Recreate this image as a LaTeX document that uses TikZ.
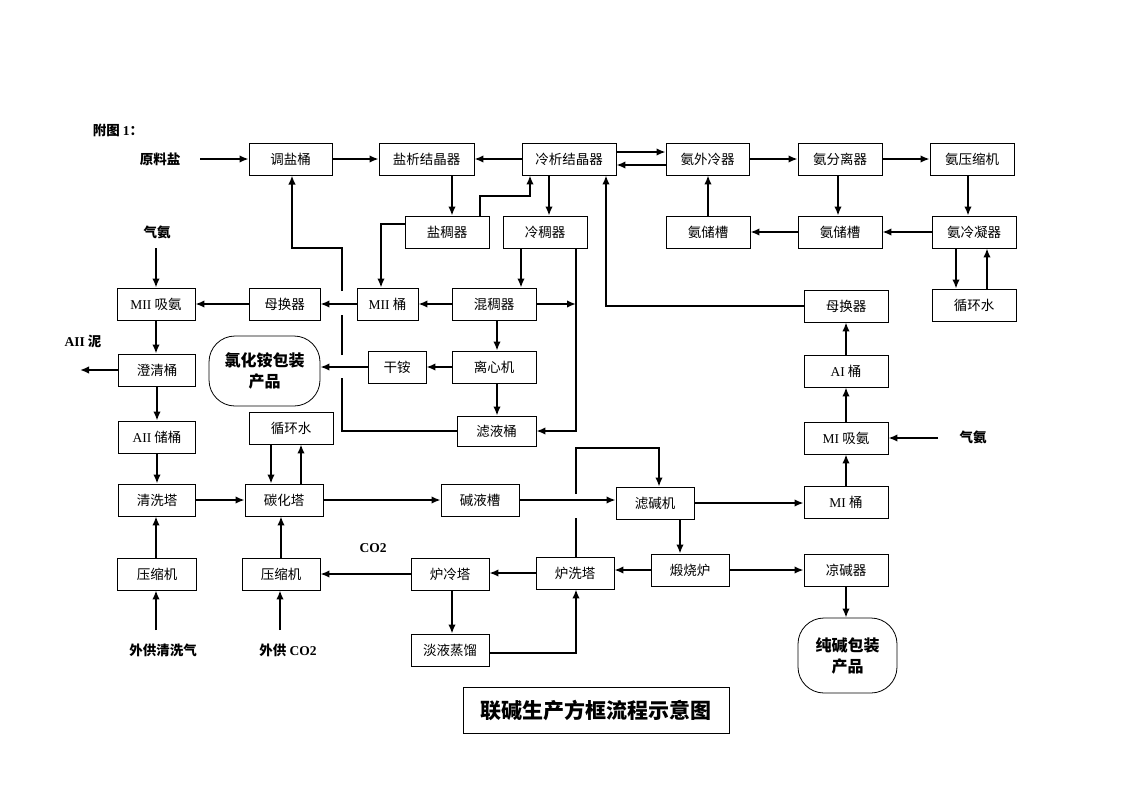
\documentclass[tikz,border=0pt]{standalone}
\usepackage{fontspec}
\setmainfont{Liberation Serif}
\newfontfamily\cjk{Noto Sans CJK SC}
\usetikzlibrary{arrows.meta}

\begin{document}
\begin{tikzpicture}[x=1pt,y=-1pt,>={Latex[length=9pt,width=7.5pt]}]
				\tikzstyle{box}=[draw,line width=0.8pt,minimum width=84pt,minimum height=32pt,inner sep=0pt,font=\cjk\fontsize{13.5}{16}\selectfont]
				\tikzstyle{prod}=[box,rounded corners=26pt,font=\cjk\bfseries\fontsize{16}{21}\selectfont,align=center]
				\tikzstyle{lbl}=[inner sep=0pt,font=\cjk\bfseries\fontsize{13.5}{16}\selectfont]
				\tikzstyle{every path}=[line width=1.8pt]
				\useasboundingbox (0,0) rectangle (1122,793);
				
				% labels
				\node[lbl] (fig) at (118,130) {附图 \textrm{1}：};
				\node[lbl] (yls) at (160,159) {原料盐};
				\node[lbl] (qa1) at (157,232) {气氨};
				\node[lbl] (a2n) at (83,341) {\textrm{AII} 泥};
				\node[lbl] (qa2) at (973,437) {气氨};
				\node[lbl] (co2) at (373,548) {\textrm{CO2}};
				\node[lbl] (wgq) at (163,650) {外供清洗气};
				\node[lbl] (wgc) at (288,650) {外供 \textrm{CO2}};
				
				% row 1
				\node[box,minimum width=83pt] (tyt) at (290.5,159) {调盐桶};
				\node[box,minimum width=95pt] (yxj) at (426.5,159) {盐析结晶器};
				\node[box,minimum width=94pt] (lxj) at (569,159) {冷析结晶器};
				\node[box,minimum width=83pt] (awl) at (707.5,159) {氨外冷器};
				\node[box] (afl) at (840,159) {氨分离器};
				\node[box] (ays) at (972,159) {氨压缩机};
				% row 2
				\node[box] (ycq) at (447,232) {盐稠器};
				\node[box] (lcq) at (545,232) {冷稠器};
				\node[box] (acc1) at (708,232) {氨储槽};
				\node[box] (acc2) at (840,232) {氨储槽};
				\node[box] (alq) at (974,232) {氨冷凝器};
				% row 3
				\node[box,minimum width=78pt] (m2x) at (156,304) {\textrm{MII} 吸氨};
				\node[box,minimum width=71pt] (mhq1) at (284.5,304) {母换器};
				\node[box,minimum width=61pt] (m2t) at (387.5,304) {\textrm{MII} 桶};
				\node[box] (hcq) at (494,304) {混稠器};
				\node[box] (mhq2) at (846,306) {母换器};
				\node[box] (xhs2) at (974,305) {循环水};
				% row 4
				\node[box,minimum width=77pt] (cqt) at (157,370) {澄清桶};
				\node[prod,minimum width=111pt,minimum height=70pt] (lha) at (264.5,371) {氯化铵包装\\产品};
				\node[box,minimum width=58pt] (ga) at (397,367) {干铵};
				\node[box] (lxj2) at (494,367) {离心机};
				\node[box] (a1t) at (846,371) {\textrm{AI} 桶};
				% row 5
				\node[box,minimum width=77pt] (a2c) at (157,437) {\textrm{AII} 储桶};
				\node[box] (xhs1) at (291,428) {循环水};
				\node[box,minimum width=79pt,minimum height=30pt] (lyt) at (496.5,431) {滤液桶};
				\node[box] (m1x) at (846,438) {\textrm{MI} 吸氨};
				% row 6
				\node[box,minimum width=77pt] (qxt) at (157,500) {清洗塔};
				\node[box,minimum width=78pt] (tht) at (284,500) {碳化塔};
				\node[box,minimum width=78pt] (jyc) at (480,500) {碱液槽};
				\node[box,minimum width=78pt] (ljj) at (655,503) {滤碱机};
				\node[box] (m1t) at (846,502) {\textrm{MI} 桶};
				% row 7
				\node[box,minimum width=79pt] (ysj1) at (157,574) {压缩机};
				\node[box,minimum width=78pt] (ysj2) at (281,574) {压缩机};
				\node[box,minimum width=78pt] (llt) at (450,574) {炉冷塔};
				\node[box,minimum width=78pt] (lxt) at (575,573) {炉洗塔};
				\node[box,minimum width=78pt] (dsl) at (690,570) {煅烧炉};
				\node[box] (ljq) at (846,570) {凉碱器};
				% row 8
				\node[box,minimum width=78pt] (dyz) at (450,650) {淡液蒸馏};
				\node[prod,minimum width=99pt,minimum height=75pt] (cj) at (847.5,655.5) {纯碱包装\\产品};
				\node[box,minimum width=266pt,minimum height=46pt,font=\cjk\bfseries\fontsize{21}{24}\selectfont] (title) at (596,710) {联碱生产方框流程示意图};
				
				% free ends
				\coordinate (in1) at (200,159);
				\coordinate (in2) at (156,248);
				\coordinate (in3) at (938,438);
				\coordinate (in4) at (156,630);
				\coordinate (in5) at (280,630);
				\coordinate (out1) at (80,370);
				
				% top part
				\draw[->] (in1) -- (tyt);
				\draw[->] (tyt) -- (yxj);
				\draw[->] (lxj) -- (yxj);
				\draw[->] ([yshift=7pt]lxj.east) -- ([yshift=7pt]awl.west);
				\draw[->] ([yshift=-6pt]awl.west) -- ([yshift=-6pt]lxj.east);
				\draw[->] (awl) -- (afl);
				\draw[->] (afl) -- (ays);
				\draw[->] ([xshift=-4pt]ays.south) -- ([xshift=-4pt]ays.south |- alq.north);
				\draw[->] (alq) -- (acc2);
				\draw[->] (acc2) -- (acc1);
				\draw[->] ([xshift=-2pt]afl.south) -- ([xshift=-2pt]afl.south |- acc2.north);
				\draw[->] (acc1.north) -- (acc1.north |- awl.south);
				\draw[->] ([xshift=-18pt]alq.south) -- ([xshift=-18pt]alq.south |- xhs2.north);
				\draw[->] ([xshift=13pt]alq.south |- xhs2.north) -- ([xshift=13pt]alq.south);
				\draw[->] ([xshift=25.5pt]yxj.south) -- ([xshift=25.5pt]yxj.south |- ycq.north);
				\draw[->] ([xshift=33pt]ycq.north) -- ++(0,-20) -| ([xshift=-39pt]lxj.south);
				\draw[->] ([xshift=-20pt]lxj.south) -- ([xshift=-20pt]lxj.south |- lcq.north);
				\draw[->] ([yshift=8pt]ycq.west) -| ([xshift=-6.5pt]m2t.north);
				\draw[->] ([xshift=-24pt]lcq.south) -- ([xshift=-24pt]lcq.south |- hcq.north);
				\coordinate (r1) at ([xshift=31pt]lcq.south);
				\draw[->] (r1) |- (lyt.east);
				\draw[->] (hcq.east) -- (r1 |- hcq.east);
				\draw[->] (hcq) -- (m2t);
				\draw[->] (m2t) -- (mhq1);
				\draw[->] (mhq1) -- (m2x);
				\draw[->] (mhq2.west) -| ([xshift=37pt]lxj.south);
				
				% return line with gaps
				\draw (lyt.west) -| (342,378);
				\draw (342,355) -- (342,315);
				\draw[->] (342,291) |- (292,248) -- (292,175.5);
				
				% middle part
				\draw[->] ([xshift=3pt]hcq.south) -- ([xshift=3pt]hcq.south |- lxj2.north);
				\draw[->] (lxj2) -- (ga);
				\draw[->] (ga.west) -- (ga.west -| lha.east);
				\draw[->] ([xshift=3pt]lxj2.south) -- ([xshift=3pt]lxj2.south |- lyt.north);
				\draw[->] (in2) -- (m2x);
				\draw[->] (m2x.south) -- (m2x.south |- cqt.north);
				\draw[->] (cqt) -- (out1);
				\draw[->] (cqt) -- (a2c);
				\draw[->] (a2c) -- (qxt);
				\draw[->] (qxt) -- (tht);
				\draw[->] ([xshift=-20pt]xhs1.south) -- ([xshift=-20pt]xhs1.south |- tht.north);
				\draw[->] ([xshift=10pt]xhs1.south |- tht.north) -- ([xshift=10pt]xhs1.south);
				\draw[->] (tht) -- (jyc);
				\draw[->] (jyc.east) -- (jyc.east -| ljj.west);
				
				% bottom part
				\draw ([xshift=1pt]lxt.north) -- (576,518);
				\draw[->] (576,494) |- (659,448) -- ([xshift=4pt]ljj.north);
				\draw[->] (ljj.east) -- (ljj.east -| m1t.west);
				\draw[->] ([xshift=25pt]ljj.south) -- ([xshift=25pt]ljj.south |- dsl.north);
				\draw[->] (dsl.west) -- (dsl.west -| lxt.east);
				\draw[->] (dsl) -- (ljq);
				\draw[->] (ljq.south) -- (ljq.south |- cj.north);
				\draw[->] (lxt.west) -- (lxt.west -| llt.east);
				\draw[->] (llt) -- (ysj2);
				\draw[->] ([xshift=2pt]llt.south) -- ([xshift=2pt]llt.south |- dyz.north);
				\draw[->] ([yshift=-3pt]dyz.east) -| ([xshift=1pt]lxt.south);
				\draw[->] (in4) -- (in4 |- ysj1.south);
				\draw[->] (ysj1.north -| in4) -- (in4 |- qxt.south);
				\draw[->] (in5) -- (in5 |- ysj2.south);
				\draw[->] (ysj2.north) -- (ysj2.north |- tht.south);
				\draw[->] (m1t) -- (m1x);
				\draw[->] (m1x) -- (a1t);
				\draw[->] (a1t) -- (mhq2);
				\draw[->] (in3) -- (m1x);
				
				;\end{tikzpicture}
\end{document}
